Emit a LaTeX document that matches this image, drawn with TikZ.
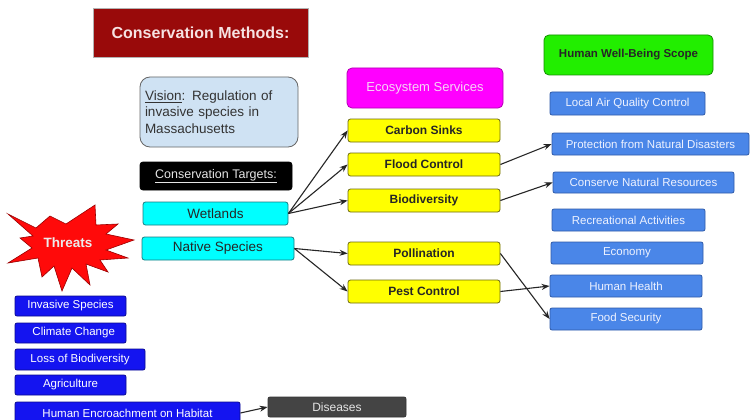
\documentclass[tikz,border=0pt]{standalone}
\usepackage{fontspec}
\setmainfont{Liberation Sans}
\usetikzlibrary{arrows.meta}
\definecolor{titlered}{HTML}{990A0A}
\definecolor{titletext}{HTML}{F6E2E2}
\definecolor{visionblue}{HTML}{CFE2F3}
\definecolor{cyanbox}{HTML}{00FFFF}
\definecolor{cyanedge}{HTML}{1A7A80}
\definecolor{threatblue}{HTML}{1414F0}
\definecolor{threatedge}{HTML}{0A0A90}
\definecolor{yellowbox}{HTML}{FFFF00}
\definecolor{yellowedge}{HTML}{6E6A10}
\definecolor{magentabox}{HTML}{FF00FF}
\definecolor{magentatext}{HTML}{F6D4F6}
\definecolor{greenbox}{HTML}{22EE00}
\definecolor{wellblue}{HTML}{4A86E8}
\definecolor{welledge}{HTML}{2E5AA8}
\definecolor{wellbluetext}{HTML}{EEF2FF}
\definecolor{diseasegray}{HTML}{444444}
\definecolor{starred}{HTML}{FF0A0A}
\tikzset{
  box/.style={draw, rounded corners=2.5pt, inner sep=0pt, line width=0.8pt, align=center},
  titlebox/.style={box, rounded corners=0pt, fill=titlered, draw=gray!60, text=titletext, font=\fontsize{16}{18}\selectfont\bfseries},
  visionbox/.style={box, rounded corners=10pt, fill=visionblue, draw=gray!80!black, text=black!80, font=\fontsize{13.5}{16.5}\selectfont, align=left, text width=148pt},
  targetbox/.style={box, rounded corners=3pt, fill=black, draw=black, text=white!90!black, font=\fontsize{12.5}{14}\selectfont},
  cyanstyle/.style={box, fill=cyanbox, draw=cyanedge, text=black!85, font=\fontsize{13.5}{15}\selectfont},
  threatbox/.style={box, rounded corners=2pt, fill=threatblue, draw=threatedge, text=white, font=\fontsize{11.5}{13}\selectfont},
  yellowstyle/.style={box, fill=yellowbox, draw=yellowedge, text=black!85, font=\fontsize{12}{14}\selectfont\bfseries},
  magentastyle/.style={box, rounded corners=5pt, fill=magentabox, draw=magentabox!70!black, text=magentatext, font=\fontsize{13}{15}\selectfont},
  greenstyle/.style={box, rounded corners=5pt, fill=greenbox, draw=greenbox!60!black, text=black!85, font=\fontsize{11.5}{13}\selectfont\bfseries},
  wellstyle/.style={box, rounded corners=2pt, fill=wellblue, draw=welledge, text=wellbluetext, font=\fontsize{11.5}{13}\selectfont},
  diseasestyle/.style={box, rounded corners=2pt, fill=diseasegray, draw=black!80, text=white!90!black, font=\fontsize{12}{14}\selectfont},
  conn/.style={draw=black!85, line width=1.1pt, -{Stealth[length=8pt,width=6pt]}}
}
\begin{document}
\begin{tikzpicture}[x=1pt,y=-1pt]
\useasboundingbox (0,0) rectangle (750,420);
\fill[white] (0,0) rectangle (750,420);

% title and left column
\node[titlebox, minimum width=215pt, minimum height=49pt] (title) at (200.5,32.5) {Conservation Methods:};
\node[visionbox, minimum width=158pt, minimum height=70pt] (vision) at (219,112) {\underline{Vision}: Regulation of\\invasive species in\\Massachusetts};
\node[targetbox, minimum width=152pt, minimum height=28pt] (targets) at (216,176) {\underline{Conservation Targets:}};
\node[cyanstyle, minimum width=145pt, minimum height=23pt] (wetlands) at (215.5,213.5) {Wetlands};
\node[cyanstyle, minimum width=152pt, minimum height=23pt] (native) at (218,248.5) {Native Species};

% threats starburst
\path[fill=starred, draw=red!60!black, line width=0.6pt]
  (8,214) -- (36,228) -- (50,216) -- (66,224) -- (95,205) -- (96,225) -- (118,224)
  -- (106,234) -- (134,240) -- (106,250) -- (128,258) -- (100,260) -- (108,272)
  -- (86,264) -- (90,285) -- (72,268) -- (62,291) -- (54,266) -- (42,277)
  -- (38,258) -- (8,263) -- (32,248) -- (20,238) -- (33,236) -- cycle;
\node[text=white!92!black, font=\fontsize{13.5}{15}\selectfont\bfseries] (threats) at (68,243) {Threats};

\node[threatbox, minimum width=111pt, minimum height=20pt] (invasive) at (70.5,306) {Invasive Species};
\node[threatbox, minimum width=111pt, minimum height=20pt] (climate) at (70.5,333) {\ \ Climate Change};
\node[threatbox, minimum width=130pt, minimum height=21pt] (loss) at (80,359.5) {Loss of Biodiversity};
\node[threatbox, minimum width=111pt, minimum height=20pt] (agri) at (70.5,385) {Agriculture};
\node[threatbox, minimum width=225pt, minimum height=22pt] (encroach) at (127.5,413) {Human Encroachment on Habitat};
\node[diseasestyle, minimum width=138pt, minimum height=20pt] (diseases) at (337,407) {Diseases};

% ecosystem services
\node[magentastyle, minimum width=156pt, minimum height=40pt] (eco) at (425,88) {Ecosystem Services};
\node[yellowstyle, minimum width=152pt, minimum height=23pt] (carbon) at (424,130.5) {Carbon Sinks};
\node[yellowstyle, minimum width=152pt, minimum height=23pt] (flood) at (424,164.5) {Flood Control};
\node[yellowstyle, minimum width=152pt, minimum height=23pt] (biodiv) at (424,200.5) {Biodiversity};
\node[yellowstyle, minimum width=152pt, minimum height=23pt] (pollin) at (424,253.5) {Pollination};
\node[yellowstyle, minimum width=152pt, minimum height=23pt] (pest) at (424,291.5) {Pest Control};

% human well-being
\node[greenstyle, minimum width=169pt, minimum height=40pt] (wellbeing) at (628.5,55) {Human Well-Being Scope};
\node[wellstyle, minimum width=155pt, minimum height=23pt] (air) at (627.5,103.5) {Local Air Quality Control};
\node[wellstyle, minimum width=197pt, minimum height=22pt] (protect) at (650.5,144) {Protection from Natural Disasters};
\node[wellstyle, minimum width=181pt, minimum height=21pt] (conserve) at (643.5,182.5) {Conserve Natural Resources};
\node[wellstyle, minimum width=153pt, minimum height=22pt] (recreation) at (628.5,220) {Recreational Activities};
\node[wellstyle, minimum width=152pt, minimum height=22pt] (economy) at (627,253) {Economy};
\node[wellstyle, minimum width=152pt, minimum height=22pt] (health) at (626,286) {Human Health};
\node[wellstyle, minimum width=152pt, minimum height=22pt] (food) at (626,319) {Food Security};

% connectors
\draw[conn] (wetlands.east) -- (carbon.west);
\draw[conn] (wetlands.east) -- (flood.west);
\draw[conn] (wetlands.east) -- (biodiv.west);
\draw[conn] (native.east) -- (pollin.west);
\draw[conn] (native.east) -- (pest.west);
\draw[conn] (flood.east) -- (protect.west);
\draw[conn] (biodiv.east) -- (conserve.west);
\draw[conn] (pollin.east) -- (food.west);
\draw[conn] (pest.east) -- (health.west);
\draw[conn] (encroach.east) -- (diseases.west);
\end{tikzpicture}
\end{document}
